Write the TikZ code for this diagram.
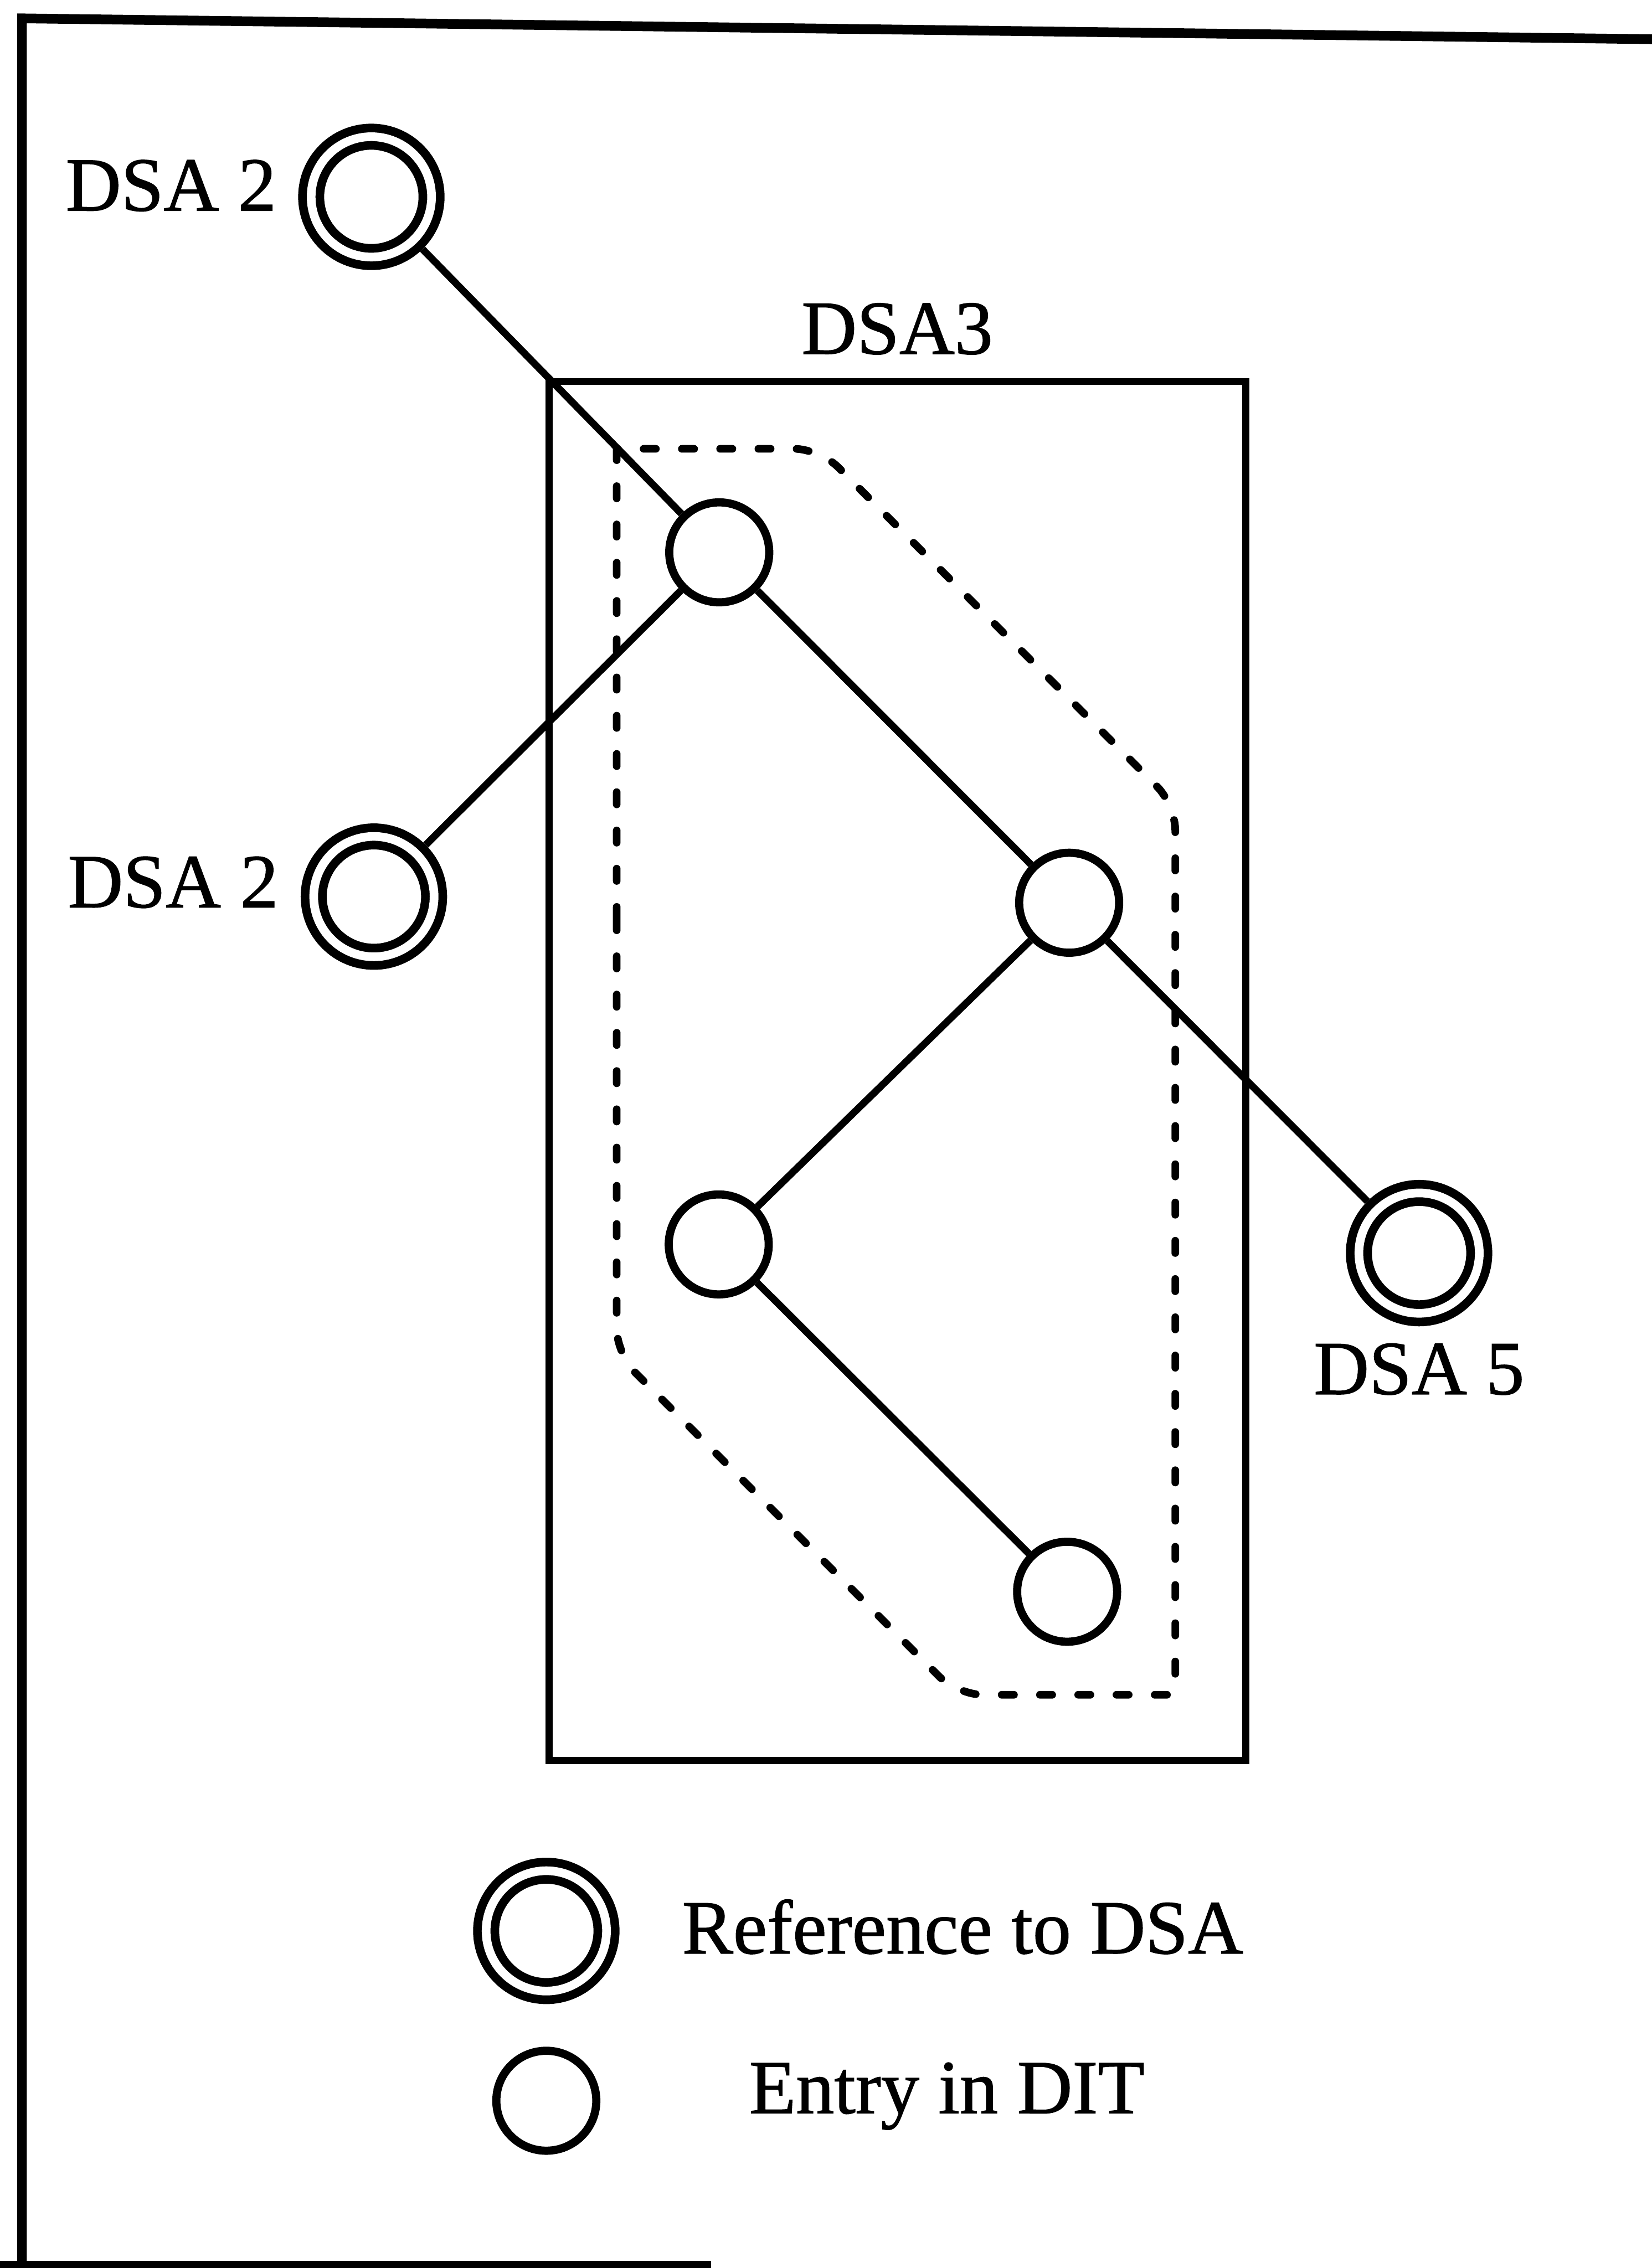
\documentclass[tikz,border=0pt]{standalone}
\usepackage{fontspec}
\setmainfont[FakeBold=1]{Liberation Serif}
\usetikzlibrary{positioning}

\begin{document}
\begin{tikzpicture}[font=\fontsize{42.7pt}{51pt}\selectfont,
    REF/.style={circle, draw, line width=0.17cm, double, double distance=0.17cm, minimum size=2.36cm, inner sep=0pt, outer sep=0.255cm},
    ENT/.style={circle, draw, line width=0.16cm, minimum size=1.96cm, inner sep=0pt},
    TXT/.style={inner sep=0pt},
    LNK/.style={line width=0.14cm},
    ZONE/.style={line width=0.15cm, dash pattern=on 0.24cm off 0.51cm, line cap=round},
    FRM/.style={line width=0.19cm}]
    \useasboundingbox (0,0) rectangle (32.38,-44.47);
    \draw[FRM] (0.43,-44.6) -- (0.43,-0.36) -- (32.5,-0.77);
    \draw[FRM] (0,-44.42) -- (13.94,-44.42);
    \node[draw, line width=0.14cm, minimum width=13.66cm, minimum height=27.04cm, inner sep=0pt] (dsa3) at (17.59,-21.0) {};
    \node[TXT, above=0.45cm of dsa3] (dsa3lbl) {DSA3};
    \draw[ZONE, rounded corners=0.5cm] (12.09,-18.0) -- (12.09,-26.55) -- (18.77,-33.23) [rounded corners=0.15cm] -- (23.04,-33.23) [rounded corners=0.5cm] -- (23.04,-15.78) -- (16.07,-8.80) [sharp corners] -- (12.09,-8.80) -- cycle;
    \node[ENT] (e1) at (14.10,-10.83) {};
    \node[ENT, on grid, below right=6.87cm and 6.86cm of e1] (e2) {};
    \node[ENT, on grid, below left=6.70cm and 6.87cm of e2] (e3) {};
    \node[ENT, on grid, below right=6.81cm and 6.83cm of e3] (e4) {};
    \node[REF, on grid, above left=6.97cm and 6.82cm of e1] (dsa2a) {};
    \node[REF, on grid, below left=6.75cm and 6.77cm of e1] (dsa2b) {};
    \node[REF, on grid, below right=6.87cm and 6.86cm of e2] (dsa5) {};
    \node[TXT, left=0.42cm of dsa2a, yshift=0.22cm] (lbl2a) {DSA 2};
    \node[TXT, left=0.43cm of dsa2b, yshift=0.28cm] (lbl2b) {DSA 2};
    \node[TXT, below=0.33cm of dsa5] (lbl5) {DSA 5};
    \draw[LNK] (dsa2a) -- (e1); \draw[LNK] (e1) -- (dsa2b); \draw[LNK] (e1) -- (e2);
    \draw[LNK] (e2) -- (e3); \draw[LNK] (e3) -- (e4); \draw[LNK] (e2) -- (dsa5);
    \node[REF] (keyref) at (10.71,-37.86) {};
    \node[ENT, on grid, below=3.33cm of keyref] (keyent) {};
    \node[TXT, right=1.22cm of keyref, yshift=0.08cm] (keyreftxt) {Reference to DSA};
    \node[TXT, right=2.91cm of keyent, yshift=0.09cm] (keyenttxt) {Entry in DIT};
\end{tikzpicture}
\end{document}
